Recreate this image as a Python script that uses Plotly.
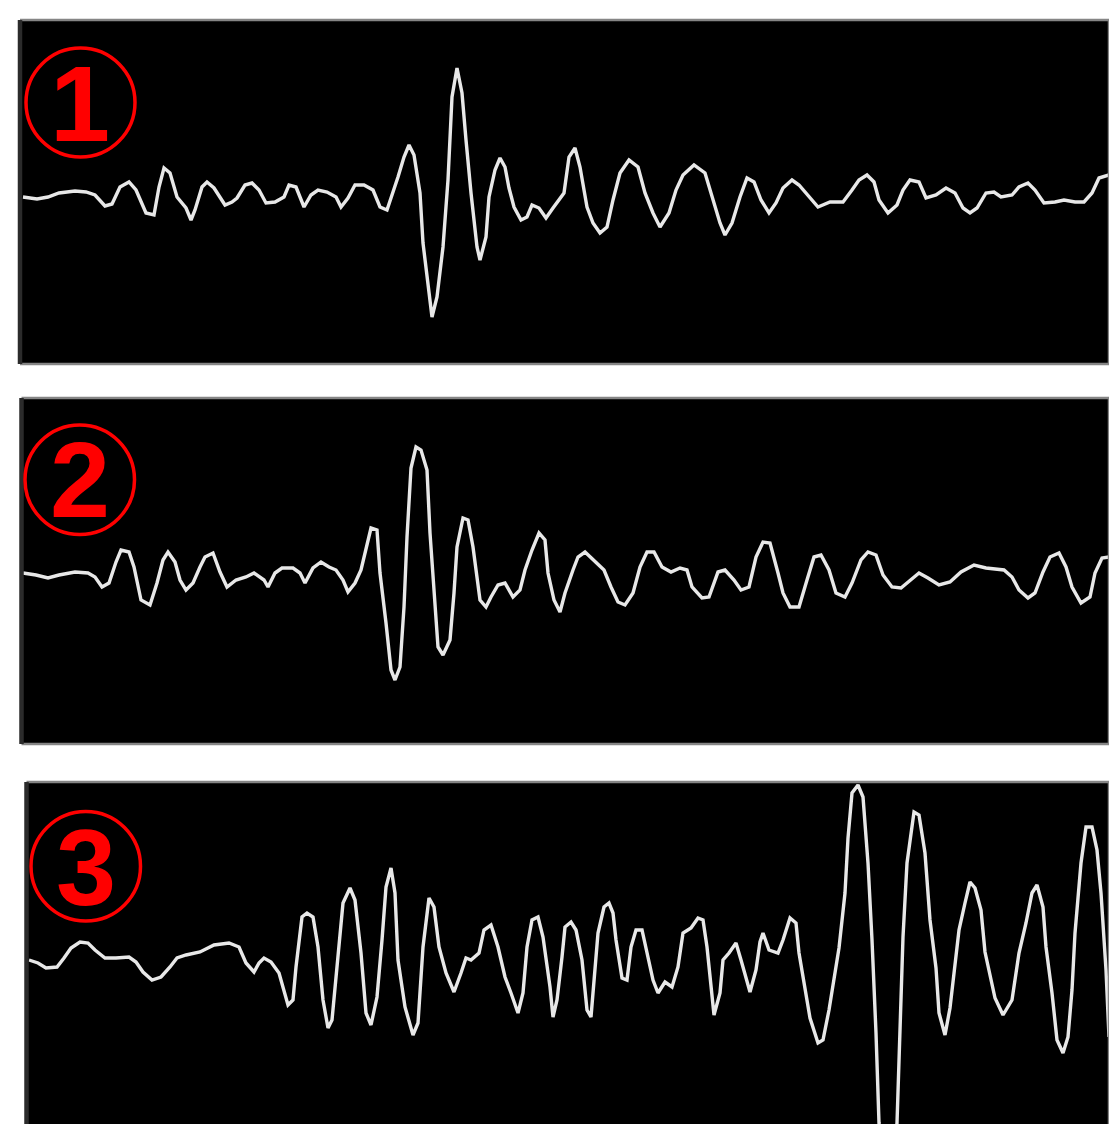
import plotly.graph_objects as go

W, H = 1109, 1124

# ---------------- data: seismogram traces (time sample, amplitude) ----------------
t1 = [23, 37, 48, 59, 75, 86, 95, 105, 112, 120, 129, 136, 146, 154, 159, 164, 170, 177, 186, 191,
      195, 202, 207, 214, 225, 232, 237, 245, 252, 259, 266, 275, 284, 289, 296, 304, 311, 318, 327, 336,
      341, 348, 355, 364, 373, 380, 387, 393, 398, 404, 409, 414, 420, 423, 429, 432, 437, 443, 448, 452,
      457, 462, 466, 471, 477, 480, 486, 489, 495, 500, 505, 509, 514, 521, 527, 532, 539, 546, 553,
      564, 569, 575, 580, 587, 593, 600, 607, 613, 620, 629, 638, 645, 653, 660, 669, 676, 683, 694, 705,
      712, 720, 725, 732, 740, 747, 754, 761, 769, 776, 783, 792, 799, 809, 818, 830, 843, 852, 859, 867,
      874, 879, 888, 897, 903, 910, 919, 926, 936, 946, 955, 963, 970, 977, 986, 994, 1001, 1012, 1019, 1028,
      1035, 1044, 1055, 1064, 1075, 1084, 1092, 1099, 1109]
a1 = [0, -2, 0, 4, 6, 5, 2, -9, -7, 10, 15, 7, -16, -18, 10, 29, 24, 0, -11, -23,
      -13, 10, 15, 9, -8, -5, -1, 12, 14, 7, -6, -5, 0, 12, 10, -10, 2, 7, 5, 0,
      -10, -1, 12, 12, 7, -10, -13, 4, 20, 40, 52, 42, 4, -46, -100, -120, -100, -50, 17, 100,
      129, 104, 57, 4, -50, -63, -40, 0, 27, 39, 30, 9, -10, -23, -20, -8, -11, -21, -11,
      4, 40, 49, 30, -10, -26, -36, -30, -3, 24, 37, 30, 4, -16, -30, -16, 7, 22, 32, 24,
      0, -26, -38, -26, 0, 19, 15, -3, -16, -6, 9, 17, 12, 0, -10, -5, -5, 7, 17, 22,
      15, -3, -16, -8, 7, 17, 15, -1, 2, 9, 4, -11, -16, -11, 4, 5, 0, 2, 10, 14,
      7, -6, -5, -3, -5, -5, 4, 19, 22]

t2 = [23, 36, 48, 59, 75, 88, 95, 102, 109, 116, 121, 129, 134, 141, 150, 157, 163, 168, 175, 180,
      186, 193, 200, 205, 213, 220, 227, 236, 246, 254, 264, 268, 275, 282, 293, 300, 305, 313, 321, 329,
      336, 343, 348, 355, 361, 366, 371, 377, 380, 386, 391, 395, 400, 404, 407, 411, 416, 421, 427, 430,
      434, 438, 443, 450, 454, 457, 463, 468, 473, 477, 480, 486, 491, 498, 505, 513, 520, 525, 532, 539,
      545, 548, 554, 560,
      565, 573, 578, 585, 594, 604, 611, 618, 625, 633, 640, 647, 654, 662, 671, 680, 687, 692, 702, 709,
      718, 725, 734, 741, 749, 756, 763, 770, 778, 783, 790, 799, 807, 814, 821, 829, 836, 845, 852, 861,
      868, 876, 883, 892, 901, 910, 919, 928, 939, 950, 961, 974, 986, 1004, 1012, 1019, 1028, 1035, 1043, 1050,
      1059, 1066, 1072, 1081, 1090, 1095, 1102, 1109]
a2 = [0, -2, -5, -2, 1, 0, -4, -14, -10, 11, 23, 21, 6, -27, -32, -10, 13, 21, 11, -7,
      -17, -10, 6, 16, 20, 1, -14, -7, -4, 0, -7, -14, 0, 5, 5, 0, -10, 5, 11, 6,
      3, -7, -19, -10, 3, 23, 45, 43, 0, -50, -97, -107, -94, -34, 36, 105, 126, 123, 103, 40,
      -17, -74, -82, -67, -20, 26, 55, 53, 26, -7, -27, -34, -24, -12, -10, -24, -17, 3, 23, 40,
      33, 0, -27, -39,
      -20, 3, 16, 21, 13, 3, -14, -29, -32, -20, 6, 21, 21, 6, 1, 5, 3, -14, -25, -24,
      1, 3, -7, -17, -14, 16, 31, 30, 0, -20, -34, -34, -7, 16, 18, 3, -20, -24, -10, 13,
      21, 18, -2, -14, -15, -7, 0, -5, -12, -9, 1, 8, 5, 3, -4, -17, -25, -20, 1, 16,
      20, 6, -14, -30, -24, 0, 15, 16]

t3 = [29, 38, 46, 57, 64, 71, 80, 88, 95, 105, 116, 129, 136, 143, 152, 161, 170, 177, 186, 200,
      214, 229, 239, 246, 254, 259, 264, 271, 279, 284, 288, 293, 296, 302, 307, 313, 318, 323, 328, 332,
      338, 343, 350, 355, 361, 366, 371, 377, 382, 386, 391, 395, 398, 405, 413, 418, 423, 429, 434, 439,
      446, 454, 461, 466, 471, 479, 484, 491, 498, 505, 511, 518, 523, 527, 532, 538, 543, 550, 553, 557,
      562, 565, 571, 576, 582, 587, 591, 594, 598, 604, 609, 613, 616, 622, 627, 631, 636, 642, 647, 653,
      658, 665, 672, 678, 683, 691, 698, 703, 707, 711, 714, 720, 723, 729, 736, 741, 747, 750, 756, 760,
      763, 769, 778, 783, 790, 796, 799, 805, 810, 818, 823, 829, 834, 839, 845, 848, 852, 858, 863, 868,
      872, 876, 879, 888, 897, 899, 903, 907, 914, 919, 925, 930, 936, 939, 945, 950, 954, 959, 965, 970,
      975, 981, 985, 990, 995, 1003, 1012, 1019, 1026, 1032, 1037, 1043, 1046, 1052, 1057, 1063, 1068, 1072, 1075, 1081,
      1086, 1092, 1097, 1101, 1106, 1109]
a3 = [0, -3, -8, -7, 2, 12, 18, 17, 10, 2, 2, 3, -2, -12, -20, -17, -7, 2, 5, 8,
      15, 17, 13, -3, -12, -3, 2, -2, -13, -30, -45, -40, -7, 43, 47, 43, 13, -40, -68, -60,
      3, 57, 72, 60, 7, -53, -65, -37, 20, 73, 92, 67, 0, -47, -75, -63, 13, 62, 53, 13,
      -13, -32, -13, 2, 0, 7, 30, 35, 13, -17, -33, -53, -33, 13, 40, 43, 23, -27, -57, -40,
      3, 33, 38, 30, 0, -50, -57, -17, 27, 53, 57, 47, 20, -18, -20, 13, 30, 30, 7, -20,
      -33, -22, -27, -7, 27, 32, 42, 40, 13, -30, -55, -33, 0, 7, 17, 0, -20, -32, -10, 18,
      27, 10, 7, 20, 42, 37, 7, -27, -58, -83, -80, -50, -17, 12, 67, 122, 167, 175, 163, 97,
      20, -73, -163, -240, -163, -97, 23, 97, 148, 145, 107, 40, -8, -53, -75, -48, -13, 30, 57, 78,
      72, 50, 8, -17, -38, -55, -40, 7, 37, 67, 75, 53, 13, -33, -80, -93, -77, -30, 27, 97,
      133, 133, 110, 67, -10, -77]

labels = ["1", "2", "3"]

# ---------------- layout helpers ----------------
def px(x):
    return x / W

def py(y):
    return 1 - y / H

LINE = "#e8e8e8"
GRAY = "#858585"
DARK = "#2b2b2b"

panels = [
    dict(t=t1, a=a1, left=20, top=20, bottom=364, yr=[-167, 177],
         circ=(26, 48, 135, 157), lab=(80, 103), bottom_line=True),
    dict(t=t2, a=a2, left=21.5, top=398, bottom=744, yr=[-171, 175],
         circ=(25, 425, 134.5, 534.5), lab=(80, 480), bottom_line=True),
    dict(t=t3, a=a3, left=26.5, top=782, bottom=1124, yr=[-164, 178],
         circ=(31, 811.5, 140.5, 921), lab=(86, 867), bottom_line=False),
]

fig = go.Figure()
layout = dict(width=W, height=H, margin=dict(l=0, r=0, t=0, b=0, pad=0),
              paper_bgcolor="white", plot_bgcolor="black", showlegend=False)
shapes = []
annotations = []

for i, p in enumerate(panels, start=1):
    sx = "" if i == 1 else str(i)
    fig.add_trace(go.Scatter(x=p["t"], y=p["a"], mode="lines",
                             line=dict(color=LINE, width=3.4),
                             xaxis="x" + sx, yaxis="y" + sx,
                             hoverinfo="skip", showlegend=False))
    layout["xaxis" + sx] = dict(domain=[px(p["left"]), 1], range=[p["left"], W],
                                visible=False, fixedrange=True, anchor="y" + sx)
    layout["yaxis" + sx] = dict(domain=[py(p["bottom"]), py(p["top"])], range=p["yr"],
                                visible=False, fixedrange=True, anchor="x" + sx)
    xd, yd = "x" + sx + " domain", "y" + sx + " domain"
    shapes.append(dict(type="line", xref=xd, yref=yd, x0=0, x1=1, y0=1, y1=1,
                       line=dict(color=GRAY, width=2.5)))
    if p["bottom_line"]:
        shapes.append(dict(type="line", xref=xd, yref=yd, x0=0, x1=1, y0=0, y1=0,
                           line=dict(color=GRAY, width=2.5)))
    shapes.append(dict(type="line", xref=xd, yref=yd, x0=1, x1=1, y0=0, y1=1,
                       line=dict(color=GRAY, width=2.5)))
    shapes.append(dict(type="line", xref=xd, yref=yd, x0=0, x1=0, y0=0, y1=1,
                       line=dict(color=DARK, width=4.5)))
    cx0, cy0, cx1, cy1 = p["circ"]
    shapes.append(dict(type="circle", xref="paper", yref="paper",
                       x0=px(cx0), x1=px(cx1), y0=py(cy1), y1=py(cy0),
                       line=dict(color="#ff0000", width=3.5)))
    annotations.append(dict(text=labels[i - 1], xref="paper", yref="paper",
                            x=px(p["lab"][0]), y=py(p["lab"][1]),
                            xanchor="center", yanchor="middle", showarrow=False,
                            font=dict(family="Liberation Sans, Arial, sans-serif",
                                      size=108, color="#ff0000", weight="bold")))

layout["shapes"] = shapes
layout["annotations"] = annotations
fig.update_layout(**layout)

fig.write_html("out.html", config={"displayModeBar": False},
               post_script="document.body.style.margin='0px';document.body.style.overflow='hidden';")
